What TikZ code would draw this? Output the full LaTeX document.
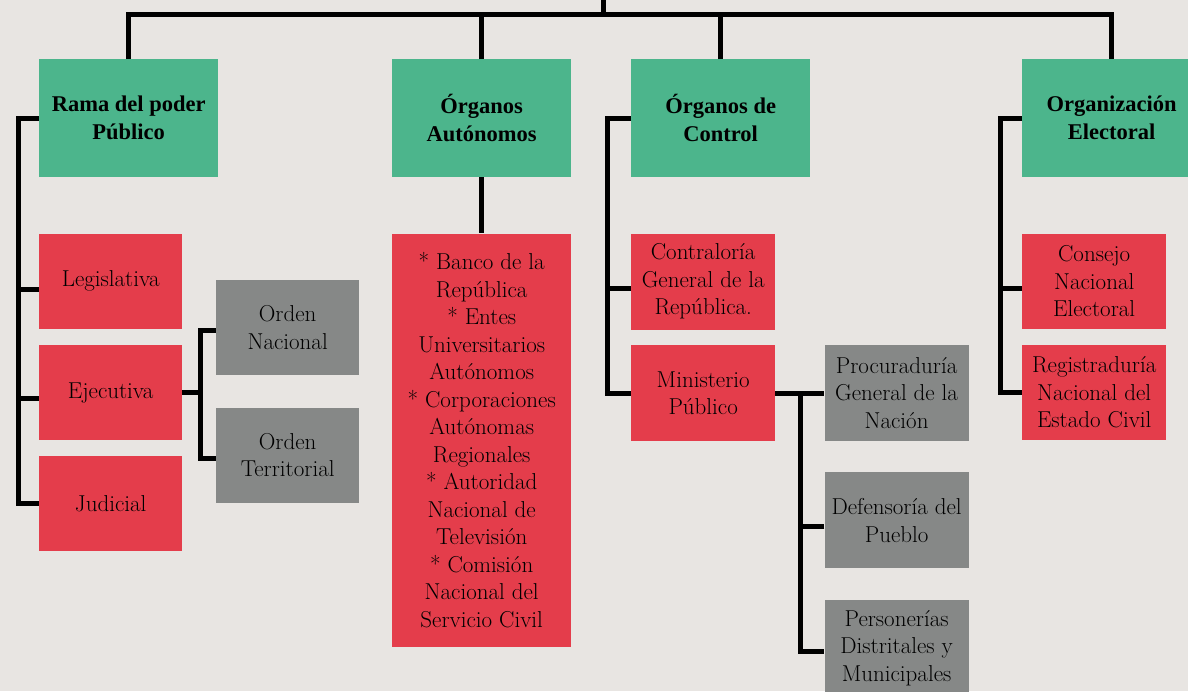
\documentclass[tikz,border=0pt]{standalone}
\usepackage{fontspec}
\newfontfamily\headfont{Liberation Serif}
\usepackage{tikz}
\usetikzlibrary{positioning}
\definecolor{bgc}{RGB}{232,229,226}
\definecolor{hgreen}{RGB}{76,181,140}
\definecolor{ured}{RGB}{228,61,75}
\definecolor{sgray}{RGB}{134,136,135}

\begin{document}
\begin{tikzpicture}[x=1pt,y=-1pt,
  every node/.style={inner sep=0pt,align=center},
  conn/.style={line width=5pt},
  headbox/.style={fill=hgreen,minimum width=179pt,minimum height=118pt,font=\headfont\fontsize{22.5}{28}\selectfont\bfseries},
  unitbox/.style={fill=ured,minimum width=143pt,minimum height=95pt,font=\fontsize{23}{27.5}\selectfont},
  subbox/.style={fill=sgray,minimum width=143pt,minimum height=95pt,font=\fontsize{23}{27.5}\selectfont}]
	\useasboundingbox (0,0) rectangle (1188,691);
	\fill[bgc] (0,0) rectangle (1188,691);

	% cabeceras
	\node[headbox,anchor=north west] (rama) at (39,59) {Rama del poder\\Público};
	\node[headbox,anchor=north west] (aut) at (392,59) {Órganos\\Autónomos};
	\node[headbox,anchor=north west] (ctrl) at (631,59) {Órganos de\\Control};
	\node[headbox,anchor=north west] (elec) at (1022,59) {Organización\\Electoral};

	% rama del poder
	\node[unitbox] (leg) [below=56pt of rama.south west,anchor=north west] {Legislativa};
	\node[unitbox] (eje) [below=16pt of leg] {Ejecutiva};
	\node[unitbox] (jud) [below=16pt of eje] {Judicial};
	\node[subbox,anchor=north west] (ordN) at (216,280) {Orden\\Nacional};
	\node[subbox] (ordT) [below=32pt of ordN] {Orden\\Territorial};

	% autonomos
	\node[unitbox,minimum width=179pt,minimum height=413pt] (autl) [below=56pt of aut]
		{* Banco de la\\República\\* Entes\\Universitarios\\Autónomos\\* Corporaciones\\Autónomas\\Regionales\\* Autoridad\\Nacional de\\Televisión\\* Comisión\\Nacional del\\Servicio Civil};

	% control
	\node[unitbox,minimum width=144pt,minimum height=96pt] (contr) [below=56pt of ctrl.south west,anchor=north west] {Contraloría\\General de la\\República.};
	\node[unitbox,minimum width=144pt,minimum height=96pt] (minis) [below=15pt of contr] {Ministerio\\Público};
	\node[subbox,minimum width=144pt,minimum height=96pt] (proc) [right=49pt of minis] {Procuraduría\\General de la\\Nación};
	\node[subbox,minimum width=144pt,minimum height=96pt] (def) [below=31pt of proc] {Defensoría del\\Pueblo};
	\node[subbox,minimum width=144pt,minimum height=96pt] (pers) [below=31pt of def] {Personerías\\Distritales y\\Municipales};

	% electoral
	\node[unitbox,minimum width=144pt] (cons) [below=56pt of elec.south west,anchor=north west] {Consejo\\Nacional\\Electoral};
	\node[unitbox,minimum width=144pt] (regis) [below=16pt of cons] {Registraduría\\Nacional del\\Estado Civil};

	\coordinate (root) at (603,-5);
	\coordinate (bus) at (603,14);
	\coordinate (lb) at (18,0);
	\coordinate (cb) at (607,0);
	\coordinate (mb) at (800,0);
	\coordinate (xb) at (1000,0);

	\draw[conn] (root) -- (bus);
	\draw[conn] (rama.north) -- (rama.north |- bus) -- (elec.north |- bus) -- (elec.north);
	\draw[conn] (aut.north) -- (aut.north |- bus);
	\draw[conn] (ctrl.north) -- (ctrl.north |- bus);

	\draw[conn] (rama.west) -| (lb |- jud.west) -- (jud.west);
	\draw[conn] ([yshift=-8pt]leg.west) -- ++(-21,0);
	\draw[conn] ([yshift=-6pt]eje.west) -- ++(-21,0);
	\draw[conn] (eje.east) -- ++(18,0);
	\draw[conn] ([yshift=-3pt]ordN.west) -- ++(-16,0) |- ([yshift=-3pt]ordT.west);

	\draw[conn] (aut.south) -- (autl.north);

	\draw[conn] (ctrl.west) -| (cb |- minis.west) -- (minis.west);
	\draw[conn] ([yshift=-7pt]contr.west) -- ++(-24,0);
	\draw[conn] (minis.east) -- (proc.west);
	\draw[conn] (mb |- proc.west) |- ([yshift=-4pt]pers.west);
	\draw[conn] ([yshift=-6pt]def.west) -- ++(-24,0);

	\draw[conn] (elec.west) -| (xb |- regis.west) -- (regis.west);
	\draw[conn] ([yshift=-7pt]cons.west) -- ++(-22,0);
\end{tikzpicture}
\end{document}
